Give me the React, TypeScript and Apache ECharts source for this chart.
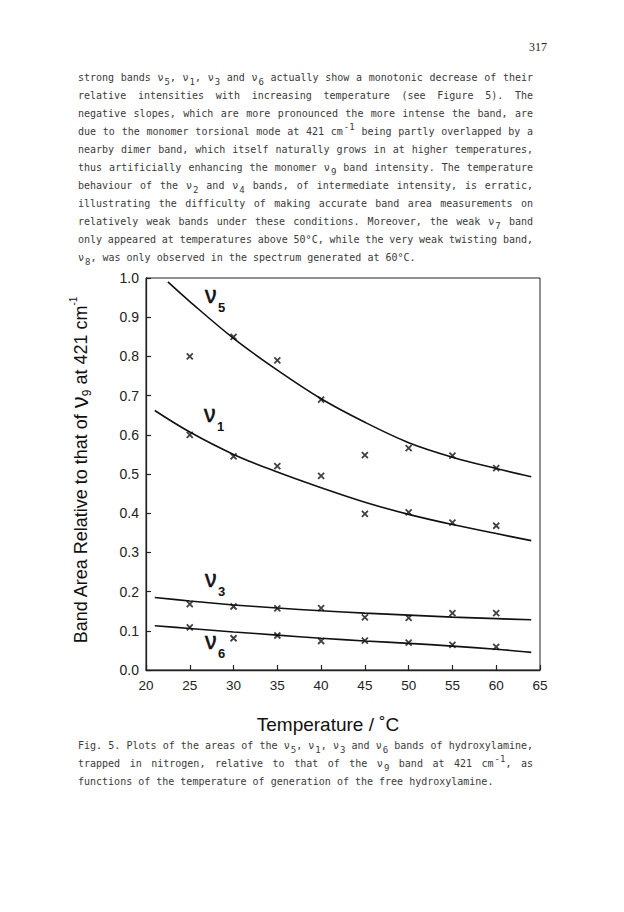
import React, { useEffect, useRef } from "react";
import * as echarts from "echarts";

// ---- data ----
const temperatures = [25, 30, 35, 40, 45, 50, 55, 60];
const nu5Measured = [0.8, 0.85, 0.79, 0.69, 0.548, 0.566, 0.547, 0.515];
const nu1Measured = [0.6, 0.545, 0.52, 0.495, 0.398, 0.402, 0.376, 0.368];
const nu3Measured = [0.168, 0.162, 0.157, 0.158, 0.134, 0.133, 0.145, 0.145];
const nu6Measured = [0.109, 0.081, 0.088, 0.074, 0.075, 0.07, 0.064, 0.059];

const nu5CurveTemps = [22.5, 25, 30, 35, 40, 45, 50, 55, 60, 64];
const nu5Curve = [0.99, 0.94, 0.846, 0.765, 0.692, 0.632, 0.58, 0.543, 0.514, 0.493];
const fitCurveTemps = [21, 25, 30, 35, 40, 45, 50, 55, 60, 64];
const nu1Curve = [0.662, 0.607, 0.55, 0.505, 0.465, 0.428, 0.397, 0.371, 0.348, 0.33];
const nu3Curve = [0.185, 0.176, 0.166, 0.158, 0.151, 0.145, 0.14, 0.135, 0.131, 0.128];
const nu6Curve = [0.113, 0.106, 0.097, 0.089, 0.081, 0.074, 0.068, 0.061, 0.053, 0.045];

const xRange = [20, 65];
const xStep = 5;
const yRange = [0, 1];
const yStep = 0.1;

const seriesLabels = [
  { nu: "ν", sub: "5" },
  { nu: "ν", sub: "1" },
  { nu: "ν", sub: "3" },
  { nu: "ν", sub: "6" },
];

const pageNumber = "317";
const bodyLines: [string, boolean][] = [
  ["strong bands ν_{5}, ν_{1}, ν_{3} and ν_{6} actually show a monotonic decrease of their", true],
  ["relative intensities with increasing temperature (see Figure 5). The", true],
  ["negative slopes, which are more pronounced the more intense the band, are", true],
  ["due to the monomer torsional mode at 421 cm^{-1} being partly overlapped by a", true],
  ["nearby dimer band, which itself naturally grows in at higher temperatures,", true],
  ["thus artificially enhancing the monomer ν_{9} band intensity. The temperature", true],
  ["behaviour of the ν_{2} and ν_{4} bands, of intermediate intensity, is erratic,", true],
  ["illustrating the difficulty of making accurate band area measurements on", true],
  ["relatively weak bands under these conditions. Moreover, the weak ν_{7} band", true],
  ["only appeared at temperatures above 50°C, while the very weak twisting band,", true],
  ["ν_{8}, was only observed in the spectrum generated at 60°C.", false],
];
const captionLines: [string, boolean][] = [
  ["Fig. 5. Plots of the areas of the ν_{5}, ν_{1}, ν_{3} and ν_{6} bands of hydroxylamine,", true],
  ["trapped in nitrogen, relative to that of the ν_{9} band at 421 cm^{-1}, as", true],
  ["functions of the temperature of generation of the free hydroxylamine.", false],
];
const xAxisTitle = "Temperature / ˚C";
const yTitleParts = { before: "Band Area Relative to that of ", nu: "ν", sub: "9", mid: " at 421 cm", sup: "-1" };

// ---- layout helpers ----
const MONO = '"DejaVu Sans Mono", monospace';
const SANS = '"Liberation Sans", Arial, sans-serif';
const TEXT_COLOR = "#3a3a3a";

let ctx: CanvasRenderingContext2D | null = null;
function measure(text: string, size: number, family: string, weight = "normal") {
  if (!ctx) ctx = document.createElement("canvas").getContext("2d");
  if (!ctx) return text.length * size * 0.6;
  ctx.font = `${weight} ${size}px ${family}`;
  return ctx.measureText(text).width;
}

type Seg = { text: string; kind: "n" | "sub" | "sup" };
function parseWord(w: string): Seg[] {
  const segs: Seg[] = [];
  const re = /([_^])\{([^}]*)\}/g;
  let last = 0;
  let m: RegExpExecArray | null;
  while ((m = re.exec(w))) {
    if (m.index > last) segs.push({ text: w.slice(last, m.index), kind: "n" });
    segs.push({ text: m[2], kind: m[1] === "_" ? "sub" : "sup" });
    last = m.index + m[0].length;
  }
  if (last < w.length) segs.push({ text: w.slice(last), kind: "n" });
  return segs;
}

const MAIN_SIZE = 10;
const SMALL_SIZE = 9;
function segWidth(s: Seg) {
  return s.kind === "n" ? measure(s.text, MAIN_SIZE, MONO) : measure(s.text, SMALL_SIZE, MONO) + 1;
}

function layoutLine(line: string, justify: boolean, left: number, right: number, yMid: number, out: any[]) {
  const words = line.split(" ").map(parseWord);
  const widths = words.map((segs) => segs.reduce((a, s) => a + segWidth(s), 0));
  const total = widths.reduce((a, b) => a + b, 0);
  const space = measure(" ", MAIN_SIZE, MONO);
  const gap = justify && words.length > 1 ? (right - left - total) / (words.length - 1) : space;
  let x = left;
  words.forEach((segs, i) => {
    let sx = x;
    segs.forEach((s) => {
      const dy = s.kind === "sub" ? 4.5 : s.kind === "sup" ? -4.5 : 0;
      out.push({
        type: "text",
        silent: true,
        x: sx + (s.kind === "n" ? 0 : 1),
        y: yMid + dy,
        style: {
          text: s.text,
          fontFamily: MONO,
          fontSize: s.kind === "n" ? MAIN_SIZE : SMALL_SIZE,
          fill: TEXT_COLOR,
          textAlign: "left",
          textVerticalAlign: "middle",
          verticalAlign: "middle",
        },
      });
      sx += segWidth(s);
    });
    x += widths[i] + gap;
  });
}

function buildYTitle(cx: number, cy: number) {
  const main = 18;
  const nuSize = 24;
  const subSize = 12;
  const supSize = 10;
  const parts = [
    { text: yTitleParts.before, size: main, dy: 0 },
    { text: yTitleParts.nu, size: nuSize, dy: -1 },
    { text: yTitleParts.sub, size: subSize, dy: 6 },
    { text: yTitleParts.mid, size: main, dy: 0 },
    { text: yTitleParts.sup, size: supSize, dy: -7 },
  ];
  const widths = parts.map((p) => measure(p.text, p.size, SANS));
  const total = widths.reduce((a, b) => a + b, 0);
  let x = -total / 2;
  const children = parts.map((p, i) => {
    const el = {
      type: "text",
      silent: true,
      x,
      y: p.dy,
      style: {
        text: p.text,
        fontFamily: SANS,
        fontSize: p.size,
        fill: "#111",
        textAlign: "left",
        textVerticalAlign: "middle",
        verticalAlign: "middle",
      },
    };
    x += widths[i];
    return el;
  });
  return { type: "group", x: cx, y: cy, rotation: Math.PI / 2, children };
}

const labelPositions = [
  { x: 205, y: 295, sx: 218, sy: 307.5 },
  { x: 204, y: 414, sx: 217, sy: 426 },
  { x: 205, y: 579, sx: 218, sy: 591 },
  { x: 205, y: 641, sx: 218, sy: 653.5 },
];

const CROSS = "path://M0,0L10,10M10,0L0,10";

export default function App() {
  const ref = useRef<HTMLDivElement>(null);
  useEffect(() => {
    if (!ref.current) return;
    const chart = echarts.init(ref.current, undefined, { renderer: "svg" });

    const graphics: any[] = [];
    bodyLines.forEach(([l, j], i) => layoutLine(l, j, 78, 533, 77 + i * 18.07, graphics));
    captionLines.forEach(([l, j], i) => layoutLine(l, j, 78, 533, 745 + i * 18, graphics));
    graphics.push({
      type: "text",
      silent: true,
      x: 547,
      y: 47,
      style: {
        text: pageNumber,
        fontFamily: '"Liberation Serif", serif',
        fontSize: 12,
        fill: "#222",
        textAlign: "right",
        textVerticalAlign: "middle",
        verticalAlign: "middle",
      },
    });
    graphics.push({
      type: "text",
      silent: true,
      x: 328,
      y: 724,
      style: {
        text: xAxisTitle,
        fontFamily: SANS,
        fontSize: 19,
        fill: "#111",
        textAlign: "center",
        textVerticalAlign: "middle",
        verticalAlign: "middle",
      },
    });
    graphics.push(buildYTitle(80.5, 470));
    seriesLabels.forEach((lab, i) => {
      const p = labelPositions[i];
      graphics.push({
        type: "text",
        silent: true,
        x: p.x,
        y: p.y,
        style: {
          text: lab.nu,
          fontFamily: SANS,
          fontSize: 23,
          fill: "#111",
          stroke: "#111",
          lineWidth: 0.6,
          textAlign: "left",
          textVerticalAlign: "middle",
          verticalAlign: "middle",
        },
      });
      graphics.push({
        type: "text",
        silent: true,
        x: p.sx,
        y: p.sy,
        style: {
          text: lab.sub,
          fontFamily: SANS,
          fontSize: 13,
          fontWeight: "bold",
          fill: "#111",
          textAlign: "left",
          textVerticalAlign: "middle",
          verticalAlign: "middle",
        },
      });
    });

    const scatter = (vals: number[]) => ({
      type: "scatter",
      data: temperatures.map((t, i) => [t, vals[i]]),
      symbol: CROSS,
      symbolSize: 6,
      itemStyle: { color: "transparent", borderColor: "#111", borderWidth: 1.8 },
      z: 3,
    });
    const curve = (ts: number[], vals: number[]) => ({
      type: "line",
      data: ts.map((t, i) => [t, vals[i]]),
      smooth: 0.35,
      symbol: "none",
      lineStyle: { color: "#111", width: 1.6 },
      z: 2,
    });

    chart.setOption({
      animation: false,
      backgroundColor: "#ffffff",
      grid: {
        left: 146,
        top: 278,
        right: 624 - 540,
        bottom: 912 - 670,
        show: true,
        borderColor: "#222",
        borderWidth: 1,
        backgroundColor: "transparent",
      },
      xAxis: {
        type: "value",
        min: xRange[0],
        max: xRange[1],
        interval: xStep,
        axisLine: { lineStyle: { color: "#222", width: 1.3 } },
        axisTick: { inside: true, length: 5, lineStyle: { color: "#222", width: 1.2 } },
        axisLabel: { fontSize: 13.5, fontFamily: SANS, color: "#222", margin: 8 },
        splitLine: { show: false },
      },
      yAxis: {
        type: "value",
        min: yRange[0],
        max: yRange[1],
        interval: yStep,
        axisLine: { lineStyle: { color: "#222", width: 1.3 } },
        axisTick: { inside: true, length: 5, lineStyle: { color: "#222", width: 1.2 } },
        axisLabel: {
          fontSize: 14,
          fontFamily: SANS,
          color: "#222",
          margin: 7,
          formatter: (v: number) => v.toFixed(1),
        },
        splitLine: { show: false },
      },
      series: [
        curve(nu5CurveTemps, nu5Curve),
        curve(fitCurveTemps, nu1Curve),
        curve(fitCurveTemps, nu3Curve),
        curve(fitCurveTemps, nu6Curve),
        scatter(nu5Measured),
        scatter(nu1Measured),
        scatter(nu3Measured),
        scatter(nu6Measured),
      ],
      graphic: graphics,
    });
    return () => chart.dispose();
  }, []);
  return (
    <div
      ref={ref}
      style={{ position: "fixed", left: 0, top: 0, width: 624, height: 912, background: "#fff" }}
    />
  );
}
